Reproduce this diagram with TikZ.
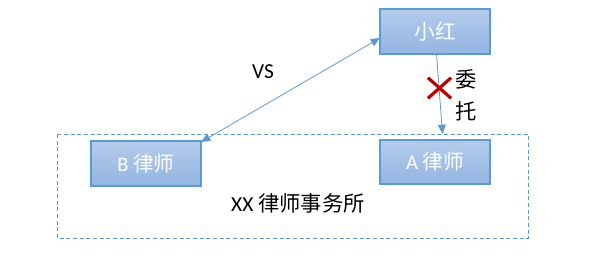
\documentclass[tikz,border=0pt]{standalone}
\usepackage{fontspec}
\setmainfont{Carlito}
\newfontfamily\cjk{Noto Sans CJK SC}
\usetikzlibrary{arrows.meta}
\definecolor{boxtop}{HTML}{B3CCEB}
\definecolor{boxbot}{HTML}{93B5E2}
\definecolor{boxline}{HTML}{5B9BD5}
\definecolor{xred}{HTML}{C00000}
\tikzset{
  lawbox/.style={draw=boxline, line width=0.9pt, top color=boxtop, bottom color=boxbot,
    minimum width=82.5pt, minimum height=33.75pt, inner sep=0pt, text=white,
    font=\fontsize{15.5}{18}\selectfont},
  conn/.style={draw=boxline, line width=0.6pt, -{Triangle[length=7pt,width=6pt]}},
  lbl/.style={inner sep=0pt, font=\fontsize{16}{19}\selectfont}
}
\begin{document}
\begin{tikzpicture}[x=0.75pt,y=-0.75pt]
\useasboundingbox (0,0) rectangle (602,257);
\draw[boxline, dashed, line width=0.6pt, dash pattern=on 3pt off 2pt] (57,134) rectangle (528.5,238);
\node[lawbox] (xh) at (435,31.5) {{\cjk 小红}};
\node[lawbox] (b) at (146,163.5) {B {\cjk 律师}};
\node[lawbox, minimum height=33pt] (a) at (435,162) {A {\cjk 律师}};
\node[lbl] (firm) at (298,203) {XX {\cjk 律师事务所}};
\node[lbl] (vs) at (263,71.5) {VS};
\coordinate (ae) at (442.5,134);
\coordinate (bs) at (201,142);
\coordinate (xs) at (380,38);
\draw[conn, {Triangle[length=7pt,width=6pt]}-{Triangle[length=7pt,width=6pt]}] (bs) -- (xs);
\draw[conn] (436.5,54) -- (ae);
\node[lbl] (wei) at (466,79) {{\cjk 委}};
\node[lbl] (tuo) at (466,111) {{\cjk 托}};
\node[inner sep=0pt, minimum width=17pt, minimum height=15pt] (cross) at (439.5,88) {};
\draw[xred, line width=2.4pt] (cross.north west) -- (cross.south east);
\draw[xred, line width=2.4pt] (cross.north east) -- (cross.south west);
\end{tikzpicture}
\end{document}
